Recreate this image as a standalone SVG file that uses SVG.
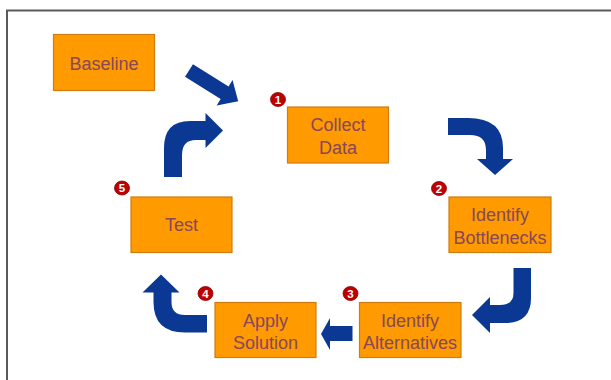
<svg xmlns="http://www.w3.org/2000/svg" width="611" height="380" viewBox="0 0 611 380">
<style>
.box{fill:#FF9A00;stroke:#D07C10;stroke-width:1.2}
.lbl{font-family:"Liberation Sans",Arial,sans-serif;font-size:18px;fill:#87475C;text-anchor:middle}
.badge{fill:#C00000;stroke:#8A0000;stroke-width:0.8}
.num{font-family:"Liberation Sans",Arial,sans-serif;font-size:11.5px;font-weight:bold;fill:#ffffff;text-anchor:middle}
.arrow{fill:#0A3892}
</style>
<rect x="0" y="0" width="611" height="380" fill="#ffffff"/>
<path d="M7,381 L7,10.5 L612,10.5" fill="none" stroke="#5a5a5a" stroke-width="2"/>

<g id="connectors">
  <polygon class="arrow" transform="translate(189,70.5) rotate(32)" points="0,-7.5 42,-7.5 42,-15 58,0 42,15 42,7.5 0,7.5"/>
  <path class="arrow" d="M448,118 L468,118 Q503,118 503,148 L503,159 L513,159 L495,175 L477,159 L486,159 L486,150 Q486,135 470,135 L448,135 Z"/>
  <path class="arrow" d="M513.5,268 L531,268 L531,298 Q531,323 505,323 L490,323 L490,333 L472,315 L490,297 L490,305 L500,305 Q513.5,305 513.5,293 Z"/>
  <polygon class="arrow" points="352.5,326 330,326 330,318 321,334 330,350 330,341 352.5,341"/>
  <path class="arrow" d="M207,315 L207,332.5 L185,332.5 Q153.5,332.5 153.5,302 L153.5,292.5 L142.5,292.5 L161,274.5 L179.5,292.5 L171.5,292.5 L171.5,302 Q171.5,315 185,315 Z"/>
  <path class="arrow" d="M164,177 L164,148 Q164,121 190,121 L205.5,121 L205.5,113 L223,130.5 L205.5,148 L205.5,140 L196,140 Q182,140 182,155 L182,177 Z"/>
</g>

<g id="baseline">
  <rect class="box" x="53.5" y="34.5" width="101" height="56"/>
  <text class="lbl" x="104" y="69.5">Baseline</text>
</g>

<g id="collect-data">
  <rect class="box" x="287.5" y="107" width="101" height="56"/>
  <text class="lbl" x="338" y="131">Collect</text>
  <text class="lbl" x="338" y="153.5">Data</text>
  <ellipse class="badge" cx="278" cy="99.5" rx="7.5" ry="7"/>
  <text class="num" x="278" y="103.5">1</text>
</g>

<g id="identify-bottlenecks">
  <rect class="box" x="449" y="197" width="102" height="55.5"/>
  <text class="lbl" x="500" y="221">Identify</text>
  <text class="lbl" x="500" y="243.5">Bottlenecks</text>
  <ellipse class="badge" cx="439" cy="188.5" rx="7.5" ry="7"/>
  <text class="num" x="439" y="192.5">2</text>
</g>

<g id="identify-alternatives">
  <rect class="box" x="359.5" y="302.5" width="101.5" height="55"/>
  <text class="lbl" x="410" y="326.5">Identify</text>
  <text class="lbl" x="410" y="349">Alternatives</text>
  <ellipse class="badge" cx="350.5" cy="293.5" rx="7.5" ry="7"/>
  <text class="num" x="350.5" y="297.5">3</text>
</g>

<g id="apply-solution">
  <rect class="box" x="215" y="302.5" width="101" height="55"/>
  <text class="lbl" x="265.5" y="326.5">Apply</text>
  <text class="lbl" x="265.5" y="349">Solution</text>
  <ellipse class="badge" cx="205.5" cy="293.5" rx="7.5" ry="7"/>
  <text class="num" x="205.5" y="297.5">4</text>
</g>

<g id="test">
  <rect class="box" x="131" y="197" width="101" height="55.5"/>
  <text class="lbl" x="181.5" y="231">Test</text>
  <ellipse class="badge" cx="122" cy="188" rx="7.5" ry="7"/>
  <text class="num" x="122" y="192">5</text>
</g>
</svg>
